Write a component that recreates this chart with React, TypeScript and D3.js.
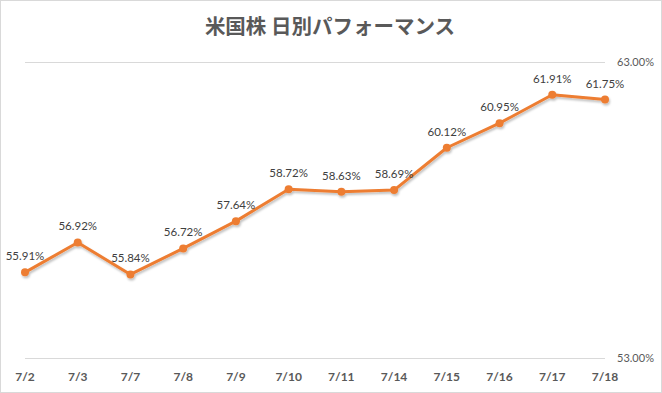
import React from "react";
import * as d3 from "d3";

const categories = ["7/2", "7/3", "7/7", "7/8", "7/9", "7/10", "7/11", "7/14", "7/15", "7/16", "7/17", "7/18"];
const values = [55.91, 56.92, 55.84, 56.72, 57.64, 58.72, 58.63, 58.69, 60.12, 60.95, 61.91, 61.75];
const yTicks = [53, 63];
const title = "米国株 日別パフォーマンス";

const W = 662;
const H = 393;

export default function App() {
  const x = d3.scalePoint<string>().domain(categories).range([25, 605]);
  const y = d3.scaleLinear().domain([53, 63]).range([358.5, 62.5]);
  const line = d3
    .line<number>()
    .x((_, i) => x(categories[i]) as number)
    .y((d) => y(d));
  const labelFont = "Lato, 'Open Sans', 'DejaVu Sans', sans-serif";
  return (
    <svg
      width={W}
      height={H}
      style={{ position: "absolute", left: 0, top: 0, background: "#fff" }}
    >
      <defs>
        <filter id="sh" x="-10%" y="-10%" width="120%" height="130%">
          <feDropShadow dx="1" dy="2" stdDeviation="1.2" floodColor="#000" floodOpacity="0.25" />
        </filter>
      </defs>
      <rect x={0.5} y={0.5} width={W - 1} height={H - 1} fill="#fff" stroke="#d9d9d9" />
      <text
        x={330}
        y={34}
        textAnchor="middle"
        fontSize={20.5}
        fontWeight={700}
        fill="#595959"
        fontFamily="'Noto Sans CJK JP', sans-serif"
      >
        {title}
      </text>
      {yTicks.map((t) => (
        <g key={t}>
          <line x1={25} x2={605} y1={y(t)} y2={y(t)} stroke="#d9d9d9" strokeWidth={1} />
          <text
            x={617}
            y={y(t)}
            dy="0.35em"
            fontSize={11}
            fill="#595959"
            fontFamily={labelFont}
          >
            {d3.format(".2f")(t)}%
          </text>
        </g>
      ))}
      {categories.map((c) => (
        <text
          key={c}
          x={x(c) as number}
          y={381}
          textAnchor="middle"
          fontSize={12}
          fontWeight={700}
          fill="#595959"
          fontFamily={labelFont}
        >
          {c}
        </text>
      ))}
      <g filter="url(#sh)">
        <path d={line(values) ?? ""} fill="none" stroke="#ed7d31" strokeWidth={3} strokeLinejoin="round" />
        {values.map((v, i) => (
          <circle key={i} cx={x(categories[i]) as number} cy={y(v)} r={4} fill="#ed7d31" />
        ))}
      </g>
      {values.map((v, i) => (
        <text
          key={i}
          x={x(categories[i]) as number}
          y={y(v) - 12}
          textAnchor="middle"
          fontSize={11.5}
          fill="#404040"
          fontFamily={labelFont}
        >
          {v.toFixed(2)}%
        </text>
      ))}
    </svg>
  );
}
